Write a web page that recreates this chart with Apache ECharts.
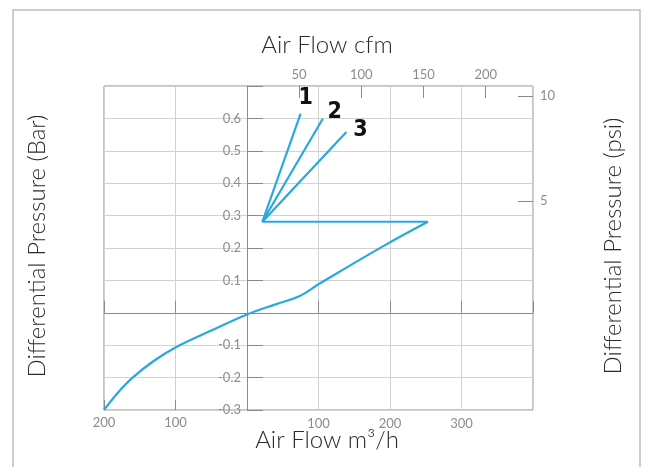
<!DOCTYPE html>
<html>
<head>
<meta charset="utf-8">
<script src="https://cdn.jsdelivr.net/npm/echarts@6/dist/echarts.min.js"></script>
<style>
html,body{margin:0;padding:0;background:#fff;}
#c{width:648px;height:467px;}
</style>
</head>
<body>
<div id="c"></div>
<script>
// ---- data (m3/h, bar) ----
var mainCurve = [[-200,-0.3],[-180,-0.245],[-160,-0.2],[-130,-0.148],[-100,-0.107],[-50,-0.055],[0,-0.005],[40,0.026],[73,0.051],[100,0.088],[190,0.205],[253,0.281]];
var returnLine = [[253,0.281],[21.5,0.281]];
var line1 = [[21.5,0.281],[75,0.615]];
var line2 = [[21.5,0.281],[106,0.599]];
var line3 = [[21.5,0.281],[139,0.558]];
var lineLabels = ['1','2','3'];
var cfmTicks = [50,100,150,200];
var psiTicks = [5,10];
var titles = {top:'Air Flow cfm', bottom:'Air Flow m³/h', left:'Differential Pressure (Bar)', right:'Differential Pressure (psi)'};

var FONT = 'Lato, "Open Sans", "Noto Sans", sans-serif';
var BLUE = '#29a8df';
var AXIS = '#8a8a8a';
var GRID = '#d2d2d2';
var LBL = '#8c8c8c';
var GRID_W = 429;

var chart = echarts.init(document.getElementById('c'), null, {renderer:'canvas'});

function lineSeries(data, labelText, offset){
  var s = {
    type:'line', xAxisIndex:0, yAxisIndex:0, data:data, symbol:'none', silent:true,
    lineStyle:{color:BLUE, width:2.2}
  };
  if(labelText){
    s.endLabel = {show:true, formatter:function(){return labelText;}, distance:0, offset:offset,
      align:'center', verticalAlign:'middle', color:'#111', fontSize:23, fontWeight:'bold',
      fontFamily:'"Liberation Sans Narrow","DejaVu Sans Condensed","Open Sans",sans-serif'};
  }
  return s;
}

var xMin = -200, xMax = 400;

var option = {
  animation:false,
  backgroundColor:'#fff',
  grid:{left:104, top:86, width:GRID_W, height:324, show:true, borderColor:AXIS, borderWidth:1, containLabel:false},
  xAxis:[
    {type:'value', position:'bottom', min:xMin, max:xMax, interval:100,
     axisLine:{show:true, onZero:true, onZeroAxisIndex:0, lineStyle:{color:AXIS, width:1}},
     axisTick:{show:true, inside:true, length:12, lineStyle:{color:AXIS}},
     axisLabel:{color:LBL, fontSize:13, fontFamily:FONT, margin:7,
       formatter:function(v){return (v>0 && v<400) ? String(v) : '';}},
     splitLine:{show:true, lineStyle:{color:GRID, width:1}}},
    {type:'value', position:'top', min:-106.7, max:238,
     axisLine:{show:false, onZero:false},
     axisTick:{show:true, inside:true, length:12, customValues:cfmTicks, lineStyle:{color:AXIS}},
     axisLabel:{show:true, customValues:cfmTicks, color:LBL, fontSize:13, fontFamily:FONT, margin:5},
     splitLine:{show:false}},
    {type:'value', position:'bottom', min:xMin, max:xMax, interval:100,
     axisLine:{show:false, onZero:false},
     axisTick:{show:true, inside:true, length:10, customValues:[-200,-100], lineStyle:{color:AXIS}},
     axisLabel:{show:true, customValues:[-200,-100], color:LBL, fontSize:13, fontFamily:FONT, margin:6,
       formatter:function(v){return String(Math.abs(v));}},
     splitLine:{show:false}}
  ],
  yAxis:[
    {type:'value', position:'left', min:-0.3, max:0.7, interval:0.1,
     offset: -(0 - xMin) / (xMax - xMin) * GRID_W,
     axisLine:{show:true, onZero:false, lineStyle:{color:AXIS, width:1}},
     axisTick:{show:true, inside:true, length:16, lineStyle:{color:AXIS}},
     axisLabel:{color:LBL, fontSize:13, fontFamily:FONT, margin:6,
       formatter:function(v){ if(Math.abs(v)<1e-9 || v>0.65) return ''; return v.toFixed(1);}},
     splitLine:{show:true, lineStyle:{color:GRID, width:1}}},
    {type:'value', position:'right', min:-4.967, max:10.476,
     axisLine:{show:false, onZero:false},
     axisTick:{show:true, inside:true, length:15, customValues:psiTicks, lineStyle:{color:AXIS}},
     axisLabel:{show:true, customValues:psiTicks, color:LBL, fontSize:13, fontFamily:FONT, margin:7},
     splitLine:{show:false}}
  ],
  graphic:[
    {type:'rect', shape:{x:13, y:10, width:627, height:470}, style:{fill:'none', stroke:'#bdbdbd', lineWidth:1.5}, silent:true, z:-10},
    {type:'text', x:327, y:45, style:{text:titles.top, font:'300 24px '+FONT, fill:'#2a2a2a', textAlign:'center', textVerticalAlign:'middle'}},
    {type:'text', x:327, y:440, style:{text:titles.bottom, font:'300 24px '+FONT, fill:'#2a2a2a', textAlign:'center', textVerticalAlign:'middle'}},
    {type:'text', x:37, y:246, rotation:Math.PI/2, style:{text:titles.left, font:'300 24px '+FONT, fill:'#2a2a2a', textAlign:'center', textVerticalAlign:'middle'}},
    {type:'text', x:613, y:246, rotation:Math.PI/2, style:{text:titles.right, font:'300 24px '+FONT, fill:'#2a2a2a', textAlign:'center', textVerticalAlign:'middle'}}
  ],
  series:[
    (function(){var s=lineSeries(mainCurve); s.smooth=0.4; return s;})(),
    lineSeries(returnLine),
    lineSeries(line1, lineLabels[0], [5,-16]),
    lineSeries(line2, lineLabels[1], [12,-7]),
    lineSeries(line3, lineLabels[2], [14,-2])
  ]
};
chart.setOption(option);
</script>
</body>
</html>
